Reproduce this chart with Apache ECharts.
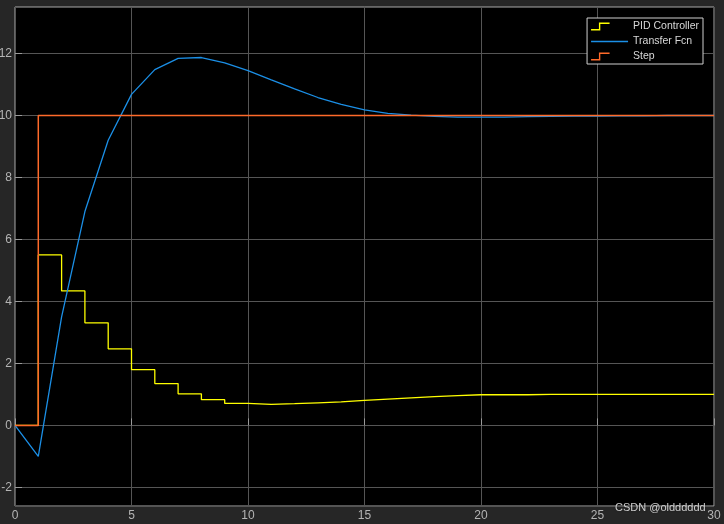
<!DOCTYPE html>
<html>
<head>
<meta charset="utf-8">
<script src="https://cdn.jsdelivr.net/npm/echarts@6/dist/echarts.min.js"></script>
<style>
html,body{margin:0;padding:0;background:#262626;}
#chart{width:724px;height:524px;}
</style>
</head>
<body>
<div id="chart"></div>
<script>
// Time (s) of each sample
var timeSteps = [0,1,2,3,4,5,6,7,8,9,10,11,12,13,14,15,16,17,18,19,20,21,22,23,24,25,26,27,28,29,30];
// PID Controller output (zero-order hold, value held from t to t+1)
var pidValues = [0,5.5,4.34,3.31,2.47,1.80,1.35,1.02,0.83,0.71,0.68,0.70,0.73,0.76,0.81,0.85,0.89,0.93,0.96,0.99,0.99,0.99,1.0,1.0,1.0,1.0,1.0,1.0,1.0,1.0,1.0];
// Transfer Fcn output
var tfValues = [0,-1,3.5,6.9,9.2,10.68,11.48,11.84,11.87,11.70,11.45,11.15,10.86,10.58,10.36,10.18,10.07,10.01,9.97,9.95,9.95,9.95,9.96,9.97,9.98,9.98,9.99,9.99,10.0,10.0,10.0];
// Step input
var stepTimes = [0,1,30];
var stepValues = [0,10,10];
// Axis ticks
var xTicks = [0,5,10,15,20,25,30];
var yTicks = [-2,0,2,4,6,8,10,12];

function pairs(xs, ys){ return xs.map(function(x,i){ return [x, ys[i]]; }); }

var stepIcon = 'path://M0,6.5 L8.5,6.5 L8.5,0 L20,0 L20,1.5 L10,1.5 L10,8 L0,8 Z M40,0 L40,8';
var lineIcon = 'path://M0,3.3 L40,3.3 L40,4.7 L0,4.7 Z M0,0 L0,8';
var cPid = '#ffff00', cTf = '#1b8fe6', cStep = '#ff6a2a';

var chart = echarts.init(document.getElementById('chart'));
var labelColor = '#b4b4b4';
chart.setOption({
  backgroundColor: '#262626',
  animation: false,
  textStyle: { fontFamily: 'Liberation Sans, Arial, sans-serif' },
  grid: { left: 15, right: 10, top: 7, bottom: 18, containLabel: false, outerBoundsMode: 'none',
    show: true, backgroundColor: '#000', borderColor: '#a8a8a8', borderWidth: 1 },
  legend: {
    right: 21, top: 18, orient: 'vertical',
    backgroundColor: '#000', borderColor: '#cfcfcf', borderWidth: 1,
    padding: [3, 4, 2, 4], itemGap: 4, itemWidth: 37, itemHeight: 8,
    symbolKeepAspect: false,
    textStyle: { color: '#d8d8d8', fontSize: 10.5, fontFamily: 'Liberation Sans, Arial, sans-serif' },
    data: [
      { name: 'PID Controller', icon: stepIcon, itemStyle: { color: cPid } },
      { name: 'Transfer Fcn', icon: lineIcon, itemStyle: { color: cTf } },
      { name: 'Step', icon: stepIcon, itemStyle: { color: cStep } }
    ]
  },
  xAxis: {
    type: 'value', min: xTicks[0], max: xTicks[xTicks.length-1], interval: 5,
    axisLine: { show: false },
    axisTick: { show: true, inside: true, length: 7, lineStyle: { color: '#9a9a9a' } },
    axisLabel: { color: labelColor, fontSize: 12, margin: 4 },
    splitLine: { show: true, lineStyle: { color: '#555', width: 1 } }
  },
  yAxis: {
    type: 'value', min: -2.6, max: 13.5, splitNumber: 8,
    axisLine: { show: false },
    axisTick: { show: true, inside: true, length: 7, lineStyle: { color: '#9a9a9a' } },
    axisLabel: { color: labelColor, fontSize: 12, margin: 3, showMinLabel: false, showMaxLabel: false,
      formatter: function(v){ return yTicks.indexOf(v) >= 0 ? String(v) : ''; } },
    splitLine: { show: true, lineStyle: { color: '#555', width: 1 } }
  },
  series: [
    { name: 'PID Controller', type: 'line', step: 'end', showSymbol: false, symbol: 'none',
      data: pairs(timeSteps, pidValues), z: 2,
      itemStyle: { color: cPid }, lineStyle: { color: cPid, width: 1.3 } },
    { name: 'Transfer Fcn', type: 'line', showSymbol: false, symbol: 'none',
      data: pairs(timeSteps, tfValues), z: 3,
      itemStyle: { color: cTf }, lineStyle: { color: cTf, width: 1.3 } },
    { name: 'Step', type: 'line', step: 'end', showSymbol: false, symbol: 'none',
      data: pairs(stepTimes, stepValues), z: 4,
      itemStyle: { color: cStep }, lineStyle: { color: cStep, width: 1.5 } }
  ],
  graphic: [
    { type: 'text', left: 615, top: 502, z: 100,
      style: { text: 'CSDN @oldddddd', fill: 'rgba(235,235,235,0.85)', font: '11px "Liberation Sans", Arial, sans-serif',
        textShadowColor: 'rgba(0,0,0,0.6)', textShadowBlur: 2 } }
  ]
});
</script>
</body>
</html>
